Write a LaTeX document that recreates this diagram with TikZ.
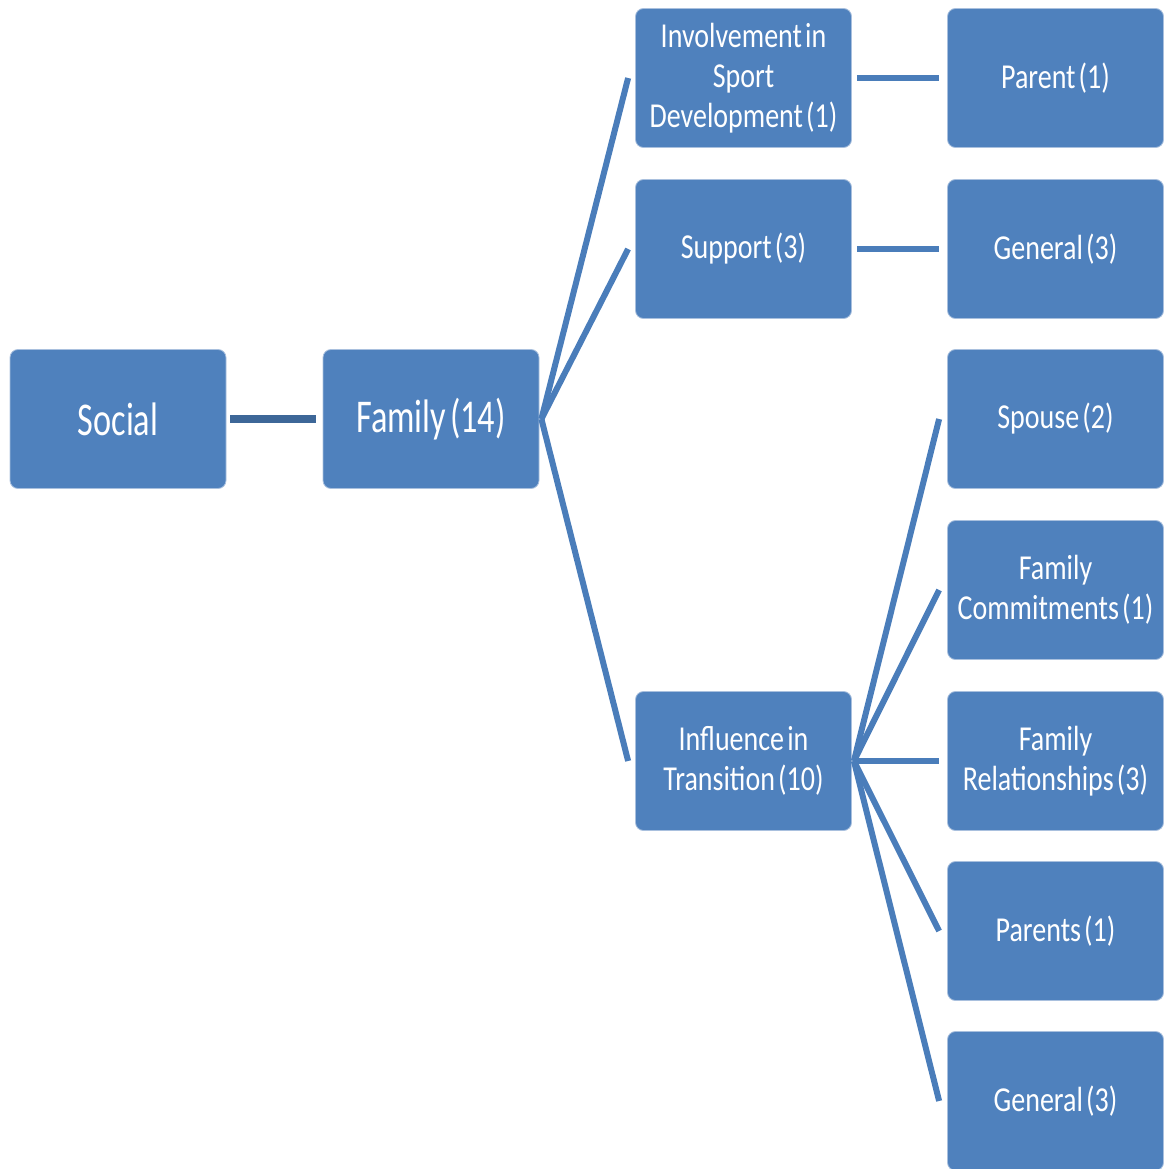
\documentclass[tikz,border=0pt]{standalone}
\usepackage{fontspec}
\newfontfamily\bigfont[FakeStretch=0.73,WordSpace=0.5]{Carlito}
\newfontfamily\smallfont[FakeStretch=0.80,WordSpace=0.5]{Carlito}
\definecolor{boxblue}{HTML}{4F81BD}
\definecolor{boxedge}{HTML}{A9C0DE}
\definecolor{linkblue}{HTML}{4A7DBA}
\definecolor{linkdark}{HTML}{3D6798}
\begin{document}
\begin{tikzpicture}[x=1pt,y=-1pt,
  box/.style={fill=boxblue, draw=boxedge, line width=0.8pt, rounded corners=8pt,
    minimum width=216pt, minimum height=139pt, inner sep=0pt, align=center,
    text=white},
  bigbox/.style={box, font=\bigfont\fontsize{47}{54}\selectfont},
  smallbox/.style={box, font=\smallfont\fontsize{35}{40}\selectfont},
  link/.style={linkblue, line width=6pt},
  trunk/.style={linkdark, line width=8.5pt}]
\useasboundingbox (0,0) rectangle (1164,1169);

% root and first level
\node[bigbox] (soc) at (118,419) {Social};
\node[bigbox] (fam) at (431,419) {Family (14)};

% second level
\node[smallbox] (inv) at (743.5,78)  {Involvement in\\Sport\\Development (1)};
\node[smallbox] (sup) at (743.5,249) {Support (3)};
\node[smallbox] (inf) at (743.5,761) {Influence in\\Transition (10)};

% third level
\node[smallbox] (par)  at (1055.5,78)   {Parent (1)};
\node[smallbox] (gen1) at (1055.5,249)  {General (3)};
\node[smallbox] (spo)  at (1055.5,419)  {Spouse (2)};
\node[smallbox] (com)  at (1055.5,590)  {Family\\Commitments (1)};
\node[smallbox] (rel)  at (1055.5,761)  {Family\\Relationships (3)};
\node[smallbox] (pas)  at (1055.5,931)  {Parents (1)};
\node[smallbox] (gen2) at (1055.5,1101) {General (3)};

% connectors
\draw[trunk] ([xshift=4pt]soc.east) -- ([xshift=-7pt]fam.west);
\foreach \c in {inv,sup,inf}
  \draw[link] ([xshift=2pt]fam.east) -- ([xshift=-7pt]\c.west);
\draw[link] ([xshift=5pt]inv.east) -- ([xshift=-8pt]par.west);
\draw[link] ([xshift=5pt]sup.east) -- ([xshift=-8pt]gen1.west);
\foreach \c in {spo,com,rel,pas,gen2}
  \draw[link] ([xshift=2pt]inf.east) -- ([xshift=-8pt]\c.west);
\end{tikzpicture}
\end{document}
